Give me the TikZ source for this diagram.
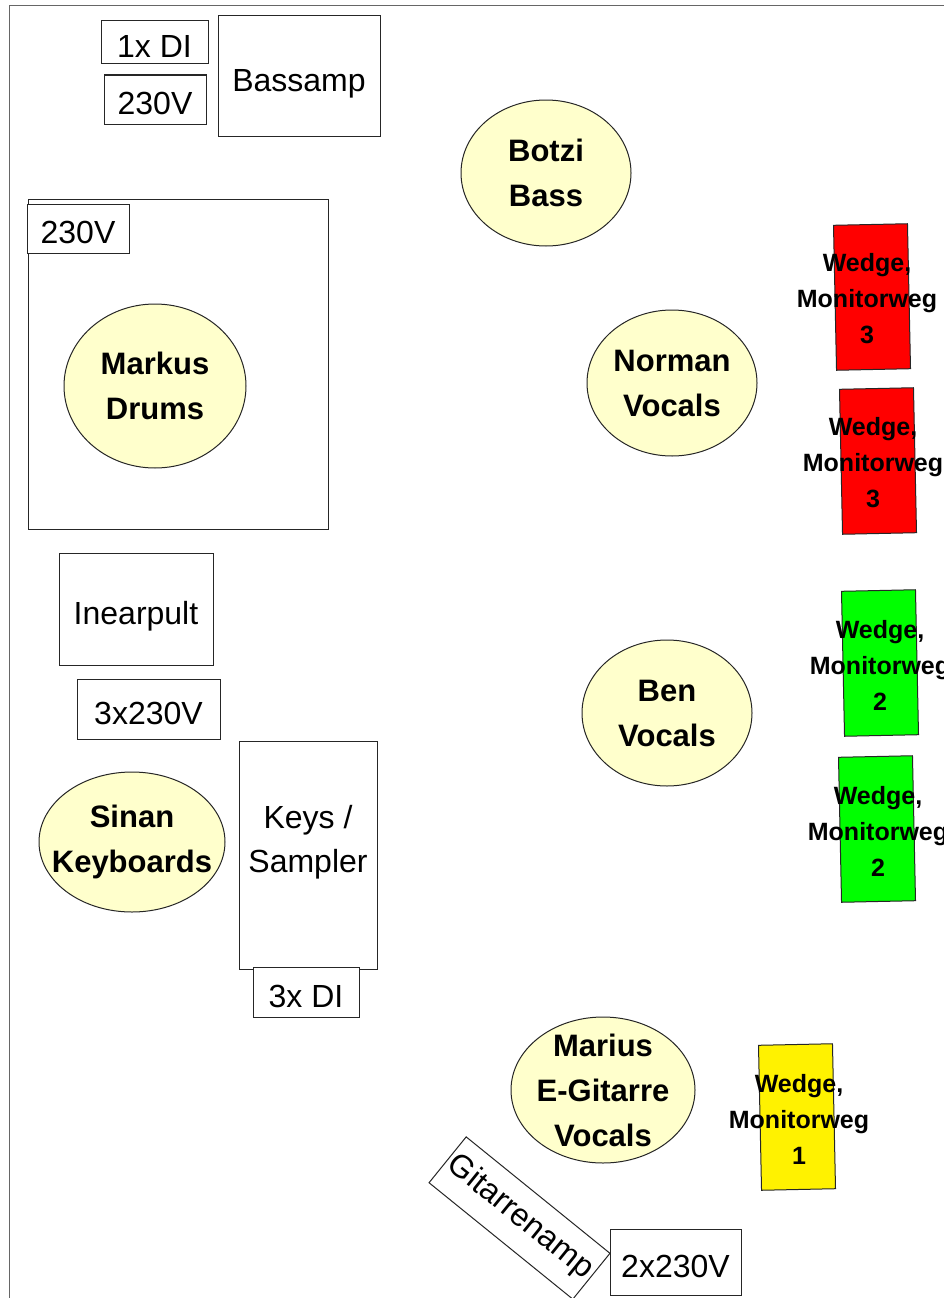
\documentclass[tikz,border=0pt]{standalone}
\usepackage{fontspec}
\setmainfont{Liberation Sans}
\usetikzlibrary{shapes.geometric}
\definecolor{pale}{RGB}{255,255,204}
\begin{document}
\begin{tikzpicture}[x=1pt,y=-1pt,
	gear/.style={draw=black!85, fill=white, line width=1pt, inner sep=0pt, text height=30pt, text depth=0pt, font=\fontsize{32}{44}\selectfont},
	geartext/.style={align=center, font=\fontsize{32}{44}\selectfont},
	player/.style={ellipse, draw=black!85, fill=pale, line width=1pt, inner sep=-30pt, align=center, font=\fontsize{31}{45}\selectfont\bfseries},
	wedgebox/.style={draw=black!85, line width=1pt, minimum width=74pt, minimum height=145pt, rotate=1.2},
	wedgetext/.style={align=center, font=\fontsize{25}{36}\selectfont\bfseries}]
	%
	\useasboundingbox (0,0) rectangle (944,1298);
	\draw [black!60, line width=1pt] (9,1298) -- (9,6) -- (944,6);
	%
	% bass corner
	\node [gear, minimum width=107pt, minimum height=43pt] (di1) at (154.5,42.5) {1x DI};
	\node [gear, minimum width=102pt, minimum height=49pt] (power1) at (155,99.5) {230V};
	\node [gear, minimum width=162pt, minimum height=120pt] (bassamp) at (299,76) {Bassamp};
	\node [player, minimum width=170pt, minimum height=146pt] (botzi) at (546,173) {Botzi\\Bass};
	%
	% drums
	\node [gear, minimum width=300pt, minimum height=330pt] (riser) at (178,364) {};
	\node [gear, minimum width=102pt, minimum height=49pt] (power2) at (78,228.5) {230V};
	\node [player, minimum width=182pt, minimum height=164pt] (markus) at (155,386) {Markus\\Drums};
	%
	% keys side
	\node [gear, minimum width=154pt, minimum height=112pt] (inear) at (136,609) {Inearpult};
	\node [gear, minimum width=143pt, minimum height=60pt] (power3) at (148.5,709) {3x230V};
	\node [player, minimum width=186pt, minimum height=140pt] (sinan) at (132,842) {Sinan\\Keyboards};
	\node [gear, minimum width=138pt, minimum height=228pt] (keys) at (308,855) {};
	\node [geartext] (keystext) at (308,842) {Keys /\\Sampler};
	\node [gear, minimum width=106pt, minimum height=50pt] (di3) at (306,992) {3x DI};
	%
	% front line
	\node [player, minimum width=170pt, minimum height=146pt] (norman) at (672,383) {Norman\\Vocals};
	\node [player, minimum width=170pt, minimum height=146pt] (ben) at (667,713) {Ben\\Vocals};
	\node [player, minimum width=184pt, minimum height=146pt] (marius) at (603,1090) {Marius\\E-Gitarre\\Vocals};
	\node [gear, text height=22pt, text depth=7pt, minimum width=185pt, minimum height=59pt, rotate=-39] (amp) at (519.5,1218) {Gitarrenamp};
	\node [gear, minimum width=131pt, minimum height=66pt] (power4) at (675.5,1262) {2x230V};
	%
	% wedges
	\foreach \w/\x/\y/\col/\nr/\dx in {wa/872/297/red/3/-5,wb/878/461/red/3/-5,wc/880/663/green/2/0,wd/877/829/green/2/1,we/797/1117/yellow/1/2}
	{
		\node [wedgebox, fill=\col] (\w) at (\x,\y) {};
		\node [wedgetext] (\w text) at ([xshift=\dx pt,yshift=-2pt]\w.center) {Wedge,\\Monitorweg\\\nr};
	}
\end{tikzpicture}
\end{document}
